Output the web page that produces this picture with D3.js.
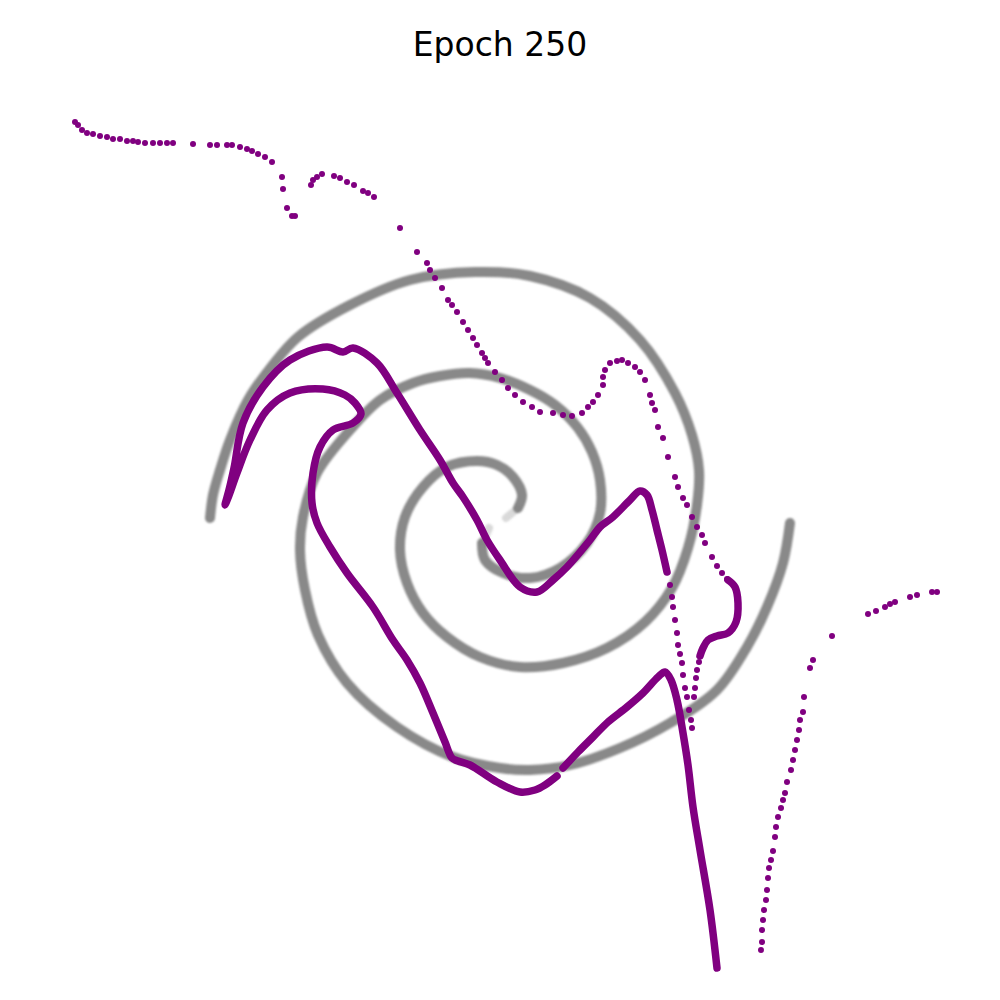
<!DOCTYPE html>
<html><head><meta charset="utf-8">
<script src="https://cdn.jsdelivr.net/npm/d3@7"></script>
<style>body{margin:0;background:#fff}svg{display:block}</style>
</head><body>
<svg id="chart" width="1000" height="1000"></svg>
<script>
const title = "Epoch 250";

// Grey target spiral, two arms (data units)
const spiralArm1 = [[0.06,-0.18],[0.18,-0.08],[0.22,0.05],[0.13,0.23],[-0.03,0.35],[-0.23,0.39],[-0.53,0.33],[-0.77,0.13],[-0.95,-0.17],[-1.00,-0.50],[-0.93,-0.83],[-0.77,-1.13],[-0.53,-1.37],[-0.20,-1.57],[0.20,-1.67],[0.63,-1.63],[1.07,-1.48],[1.45,-1.22],[1.72,-0.88],[1.88,-0.48],[1.97,-0.05],[1.99,0.30],[1.92,0.65],[1.75,1.07],[1.40,1.60],[0.90,2.02],[0.30,2.24],[-0.25,2.28],[-0.90,2.20],[-1.50,1.95],[-2.02,1.63],[-2.35,1.25],[-2.52,1.00],[-2.70,0.60],[-2.80,0.30],[-2.87,0.05],[-2.90,-0.18]];
const spiralArm2 = [[-0.11,-0.28],[-0.18,-0.43],[-0.15,-0.60],[0.03,-0.73],[0.30,-0.78],[0.60,-0.68],[0.87,-0.43],[1.00,-0.13],[1.00,0.20],[0.92,0.48],[0.78,0.72],[0.55,0.95],[0.30,1.10],[0.00,1.22],[-0.30,1.27],[-0.60,1.24],[-0.87,1.17],[-1.20,1.00],[-1.50,0.70],[-1.83,0.27],[-1.97,-0.17],[-2.00,-0.50],[-1.95,-0.90],[-1.82,-1.35],[-1.53,-1.83],[-1.03,-2.27],[-0.47,-2.57],[0.00,-2.68],[0.30,-2.70],[0.70,-2.65],[1.20,-2.48],[1.70,-2.23],[2.17,-1.90],[2.47,-1.47],[2.67,-1.07],[2.83,-0.63],[2.90,-0.23]];

// Generated samples: dense runs (drawn as a continuous band)
const denseRun1 = [[2.17,-4.68],[2.10,-4.10],[2.00,-3.50],[1.93,-3.07],[1.88,-2.65],[1.83,-2.33],[1.77,-2.00],[1.71,-1.80],[1.65,-1.72],[1.58,-1.77],[1.43,-1.93],[1.27,-2.07],[1.08,-2.22],[0.93,-2.37],[0.78,-2.52],[0.63,-2.68]];
const denseRun2 = [[0.57,-2.76],[0.45,-2.85],[0.35,-2.90],[0.20,-2.92],[-0.03,-2.82],[-0.30,-2.65],[-0.42,-2.61],[-0.48,-2.58],[-0.55,-2.42],[-0.67,-2.13],[-0.80,-1.83],[-0.93,-1.60],[-1.07,-1.40],[-1.27,-1.07],[-1.53,-0.73],[-1.70,-0.47],[-1.83,-0.23],[-1.88,-0.03],[-1.87,0.27],[-1.80,0.53],[-1.67,0.70],[-1.47,0.77],[-1.39,0.86],[-1.45,0.97],[-1.55,1.05],[-1.77,1.11],[-2.10,1.07],[-2.33,0.90],[-2.50,0.60],[-2.63,0.27],[-2.72,0.02],[-2.75,-0.05],[-2.71,0.10],[-2.66,0.32],[-2.57,0.77],[-2.37,1.13],[-2.10,1.40],[-1.73,1.53],[-1.57,1.48],[-1.47,1.52],[-1.23,1.37],[-1.03,1.07],[-0.80,0.70],[-0.60,0.40],[-0.47,0.17],[-0.37,0.03],[-0.23,-0.20],[-0.13,-0.40],[0.00,-0.60],[0.20,-0.87],[0.37,-0.92],[0.53,-0.80],[0.67,-0.67],[0.90,-0.40],[1.00,-0.27],[1.13,-0.17],[1.30,0.00],[1.40,0.09],[1.47,0.05],[1.52,-0.10],[1.57,-0.30],[1.62,-0.50],[1.67,-0.72]];
const denseRun3 = [[2.28,-0.80],[2.35,-0.87],[2.38,-1.03],[2.36,-1.22],[2.28,-1.33],[2.17,-1.36],[2.08,-1.40],[2.03,-1.48],[2.00,-1.56]];

// Generated samples: sparse points
const sparseTop = [[-4.25,3.78],[-4.22,3.75],[-4.18,3.70],[-4.13,3.67],[-4.07,3.66],[-4.00,3.64],[-3.93,3.63],[-3.87,3.61],[-3.80,3.61],[-3.73,3.59],[-3.67,3.59],[-3.62,3.58],[-3.55,3.57],[-3.47,3.57],[-3.40,3.57],[-3.33,3.57],[-3.27,3.57],[-3.07,3.56],[-2.90,3.55],[-2.83,3.55],[-2.73,3.55],[-2.68,3.55],[-2.60,3.53],[-2.53,3.51],[-2.48,3.49],[-2.42,3.46],[-2.35,3.43],[-2.28,3.38],[-2.18,3.23],[-2.17,3.11],[-2.13,2.92],[-2.08,2.84],[-2.05,2.84],[-1.89,3.15],[-1.87,3.20],[-1.83,3.23],[-1.78,3.26],[-1.66,3.24],[-1.60,3.22],[-1.53,3.18],[-1.46,3.15],[-1.37,3.09],[-1.32,3.07],[-1.26,3.03],[-1.00,2.72],[-0.83,2.48],[-0.73,2.37],[-0.70,2.30],[-0.65,2.22],[-0.58,2.12],[-0.52,2.00],[-0.48,1.95],[-0.43,1.88],[-0.37,1.78],[-0.32,1.70],[-0.27,1.62],[-0.23,1.55],[-0.18,1.47],[-0.15,1.42],[-0.12,1.37],[-0.05,1.28],[0.02,1.20],[0.08,1.12],[0.15,1.05],[0.23,0.98],[0.32,0.93],[0.40,0.88],[0.53,0.87],[0.63,0.85],[0.72,0.84],[0.82,0.87],[0.88,0.93],[0.93,0.98],[0.98,1.05],[1.03,1.15],[1.03,1.23],[1.05,1.30],[1.10,1.37],[1.17,1.39],[1.22,1.40],[1.28,1.37],[1.35,1.33],[1.40,1.28],[1.45,1.20],[1.50,1.05],[1.52,0.97],[1.55,0.90],[1.58,0.73],[1.63,0.62],[1.68,0.43],[1.75,0.23],[1.78,0.13],[1.83,0.02],[1.87,-0.05],[1.92,-0.17],[1.97,-0.27],[2.02,-0.35],[2.05,-0.43],[2.12,-0.57],[2.17,-0.66],[2.22,-0.73],[2.27,-0.79]];
const sparseRightStrand = [[1.99,-1.62],[1.97,-1.70],[1.96,-1.78],[1.95,-1.88],[1.94,-1.97]];
const sparseLeftStrand = [[1.70,-0.85],[1.72,-0.97],[1.73,-1.07],[1.75,-1.20],[1.77,-1.33],[1.78,-1.45],[1.80,-1.54],[1.82,-1.63],[1.83,-1.75],[1.85,-1.88],[1.87,-1.97],[1.89,-2.10],[1.91,-2.20],[1.92,-2.28]];
const sparseFarRight = [[4.37,-0.92],[4.32,-0.92],[4.17,-0.95],[4.10,-0.97],[3.95,-1.02],[3.90,-1.04],[3.85,-1.07],[3.76,-1.11],[3.68,-1.14],[3.32,-1.36],[3.13,-1.60],[3.10,-1.68],[3.04,-1.97],[3.03,-2.12],[3.00,-2.20],[2.99,-2.30],[2.97,-2.40],[2.95,-2.50],[2.93,-2.60],[2.91,-2.70],[2.87,-2.82],[2.85,-2.93],[2.83,-3.00],[2.81,-3.08],[2.78,-3.17],[2.76,-3.27],[2.75,-3.37],[2.73,-3.51],[2.71,-3.60],[2.69,-3.68],[2.68,-3.78],[2.67,-3.90],[2.66,-4.00],[2.64,-4.10],[2.63,-4.20],[2.62,-4.30],[2.62,-4.42],[2.61,-4.50]];

const svg = d3.select("#chart");
const x = d3.scaleLinear().domain([-5, 5]).range([0, 1000]);
const y = d3.scaleLinear().domain([-5, 5]).range([1000, 0]);

const defs = svg.append("defs");
defs.append("filter").attr("id","soft").attr("x","-10%").attr("y","-10%").attr("width","120%").attr("height","120%")
  .append("feGaussianBlur").attr("stdDeviation", 0.9);

const line = d3.line().x(d => x(d[0])).y(d => y(d[1])).curve(d3.curveCatmullRom.alpha(0.5));

const gSpiral = svg.append("g").attr("filter","url(#soft)");
[spiralArm1, spiralArm2].forEach(arm => {
  gSpiral.append("path").attr("d", line(arm.slice(0, 2)))
    .attr("fill","none").attr("stroke","#808080").attr("stroke-width",8)
    .attr("stroke-opacity",0.3).attr("stroke-linecap","round");
  gSpiral.append("path").attr("d", line(arm.slice(1)))
    .attr("fill","none").attr("stroke","#808080").attr("stroke-width",10)
    .attr("stroke-opacity",0.93).attr("stroke-linecap","round");
});

const purple = "#800080";
const gGen = svg.append("g");
[denseRun1, denseRun2, denseRun3].forEach(run => {
  gGen.append("path").attr("d", line(run))
    .attr("fill","none").attr("stroke",purple).attr("stroke-width",7.5)
    .attr("stroke-linecap","round").attr("stroke-linejoin","round");
});
const sparse = [].concat(sparseTop, sparseRightStrand, sparseLeftStrand, sparseFarRight);
gGen.selectAll("circle").data(sparse).join("circle")
  .attr("cx", d => x(d[0])).attr("cy", d => y(d[1])).attr("r", 3)
  .attr("fill", purple);

svg.append("text").attr("x", 500).attr("y", 56).attr("text-anchor","middle")
  .attr("font-family","DejaVu Sans").attr("font-size", 33).attr("fill","#000")
  .text(title);
</script>
</body></html>
